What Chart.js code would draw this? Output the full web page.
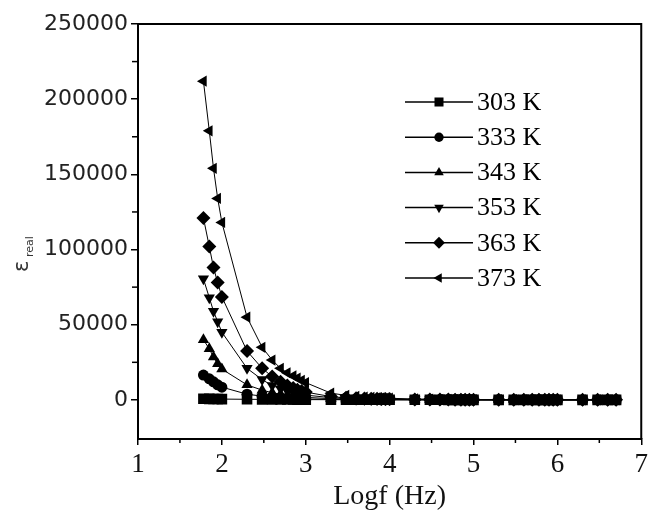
<!DOCTYPE html>
<html>
<head>
<meta charset="utf-8">
<script src="https://cdn.jsdelivr.net/npm/chart.js@4.4.1/dist/chart.umd.min.js"></script>
<style>
  body { margin: 0; background: #fff; }
  canvas { display: block; }
</style>
</head>
<body>
<canvas id="grafico" width="652" height="510"></canvas>
<script>
const logf = [1.78, 1.85, 1.90, 1.95, 2.00, 2.30, 2.48, 2.60, 2.70, 2.78, 2.85, 2.90, 2.95, 3.00,
    3.30, 3.48, 3.60, 3.70, 3.78, 3.85, 3.90, 3.95, 4.00,
    4.30, 4.48, 4.60, 4.70, 4.78, 4.85, 4.90, 4.95, 5.00,
    5.30, 5.48, 5.60, 5.70, 5.78, 5.85, 5.90, 5.95, 6.00,
    6.30, 6.48, 6.60, 6.70];

const temperaturas = ["303 K", "333 K", "343 K", "353 K", "363 K", "373 K"];

// eps real for each temperature (same order as logf)
const eps303 = [800, 700, 650, 600, 550, 400, 350, 300, 280, 260, 240, 220, 200, 190,
    150, 130, 120, 110, 100, 100, 90, 90, 80,
    70, 60, 60, 50, 50, 50, 40, 40, 40,
    30, 30, 30, 30, 20, 20, 20, 20, 20,
    20, 10, 10, 10];
const eps333 = [16500, 14000, 12000, 10000, 8500, 3800, 2500, 1800, 1400, 1100, 900, 800, 700, 600,
    300, 200, 170, 150, 130, 120, 110, 100, 90,
    70, 60, 50, 50, 40, 40, 40, 30, 30,
    30, 20, 20, 20, 20, 20, 20, 10, 10,
    10, 10, 10, 10];
const eps343 = [40000, 34000, 28500, 24000, 20500, 10000, 6500, 4800, 3800, 3100, 2600, 2200, 1900, 1700,
    800, 550, 450, 380, 330, 300, 270, 250, 230,
    150, 120, 100, 90, 80, 70, 70, 60, 60,
    40, 40, 30, 30, 30, 30, 30, 20, 20,
    20, 20, 20, 10];
const eps353 = [80500, 68000, 59000, 52000, 45000, 21000, 13500, 9500, 7500, 6000, 5000, 4300, 3700, 3200,
    1500, 1000, 800, 650, 550, 500, 450, 420, 400,
    250, 200, 170, 150, 130, 120, 110, 100, 100,
    70, 60, 50, 50, 50, 40, 40, 40, 40,
    30, 30, 20, 20];
const eps363 = [121000, 102000, 88000, 78000, 68500, 32500, 21000, 15500, 12000, 9500, 8000, 6800, 6000, 5200,
    2200, 1400, 1100, 900, 800, 700, 650, 600, 550,
    300, 250, 220, 200, 180, 170, 160, 150, 140,
    100, 90, 80, 80, 70, 70, 60, 60, 60,
    50, 40, 40, 40];
const eps373 = [212000, 179000, 154000, 134000, 118000, 55000, 35000, 26500, 21000, 18000, 16000, 14500, 13000, 11500,
    4500, 3000, 2300, 1900, 1600, 1400, 1300, 1200, 1100,
    600, 500, 400, 350, 300, 280, 260, 240, 220,
    150, 130, 120, 110, 100, 100, 90, 90, 80,
    60, 50, 50, 40];

const xTicks = [1, 2, 3, 4, 5, 6, 7];
const xMinor = [1.5, 2.5, 3.5, 4.5, 5.5, 6.5];
const yTicks = [0, 50000, 100000, 150000, 200000, 250000];
const yMinor = [25000, 75000, 125000, 175000, 225000];

const series = [eps303, eps333, eps343, eps353, eps363, eps373];
const marcadores = [
    { style: 'rect', rot: 0, r: 7.5 },
    { style: 'circle', rot: 0, r: 5.5 },
    { style: 'triangle', rot: 0, r: 6.5 },
    { style: 'triangle', rot: 180, r: 6.5 },
    { style: 'rectRot', rot: 0, r: 7 },
    { style: 'triangle', rot: 270, r: 6.5 }
];

const datasets = series.map((valores, i) => ({
    label: temperaturas[i],
    data: valores.map((v, j) => ({ x: logf[j], y: v })),
    borderColor: '#000',
    backgroundColor: '#000',
    borderWidth: 1,
    pointStyle: marcadores[i].style,
    pointRotation: marcadores[i].rot,
    pointRadius: marcadores[i].r,
    pointBorderWidth: 0,
    tension: 0
}));

// caixa, ticks menores, legenda e titulo do eixo y
const extras = {
    id: 'extras',
    afterDraw(chart) {
        const ctx = chart.ctx;
        const a = chart.chartArea;
        const sx = chart.scales.x;
        const sy = chart.scales.y;
        ctx.save();
        ctx.strokeStyle = '#000';
        ctx.fillStyle = '#000';
        ctx.lineWidth = 2;
        ctx.beginPath();
        ctx.moveTo(a.left, a.top);
        ctx.lineTo(a.right, a.top);
        ctx.lineTo(a.right, a.bottom);
        ctx.stroke();

        ctx.lineWidth = 1.5;
        xMinor.forEach(v => {
            const px = sx.getPixelForValue(v);
            ctx.beginPath();
            ctx.moveTo(px, a.bottom);
            ctx.lineTo(px, a.bottom + 4);
            ctx.stroke();
        });
        yMinor.forEach(v => {
            const py = sy.getPixelForValue(v);
            ctx.beginPath();
            ctx.moveTo(a.left, py);
            ctx.lineTo(a.left - 6, py);
            ctx.stroke();
        });

        // legenda
        ctx.font = '26px "Liberation Serif"';
        ctx.textBaseline = 'middle';
        chart.data.datasets.forEach((ds, i) => {
            const ly = 102 + i * 35.2;
            ctx.lineWidth = 1.5;
            ctx.beginPath();
            ctx.moveTo(405, ly);
            ctx.lineTo(473, ly);
            ctx.stroke();
            Chart.helpers.drawPoint(ctx, {
                pointStyle: ds.pointStyle,
                rotation: ds.pointRotation,
                radius: ds.pointRadius * 0.85,
                borderWidth: 0
            }, 439, ly);
            ctx.fillText(ds.label, 477, ly + 1);
        });

        // titulo do eixo y: eps com subscrito "real"
        ctx.translate(28, 272);
        ctx.rotate(-Math.PI / 2);
        ctx.fillStyle = '#333';
        ctx.textBaseline = 'alphabetic';
        ctx.font = '21px "DejaVu Sans"';
        ctx.fillText('ε', 0, 0);
        ctx.font = '11px "DejaVu Sans"';
        ctx.fillText('real', 15, 5);
        ctx.restore();
    }
};

new Chart(document.getElementById('grafico'), {
    type: 'line',
    data: { datasets: datasets },
    options: {
        responsive: false,
        animation: false,
        layout: { padding: { top: 24, right: 8, left: 0, bottom: 0 } },
        plugins: {
            legend: { display: false },
            tooltip: { enabled: false }
        },
        scales: {
            x: {
                type: 'linear',
                min: 1,
                max: 7,
                afterFit: s => { s.height = 71; },
                afterBuildTicks: s => { s.ticks = xTicks.map(v => ({ value: v })); },
                border: { color: '#000', width: 2 },
                grid: { drawOnChartArea: false, color: '#000', tickLength: 6, lineWidth: 1.5 },
                ticks: {
                    color: '#111',
                    font: { family: 'Liberation Serif', size: 27 },
                    padding: 4,
                    maxRotation: 0
                },
                title: {
                    display: true,
                    text: 'Logf (Hz)',
                    color: '#111',
                    font: { family: 'Liberation Serif', size: 28 },
                    padding: { top: 0, bottom: -3 }
                }
            },
            y: {
                type: 'linear',
                min: -26000,
                max: 250000,
                afterFit: s => { s.width = 138; },
                afterBuildTicks: s => { s.ticks = yTicks.map(v => ({ value: v })); },
                border: { color: '#000', width: 2 },
                grid: { drawOnChartArea: false, color: '#000', tickLength: 7, lineWidth: 1.5 },
                ticks: {
                    color: '#222',
                    font: { family: 'DejaVu Sans', size: 22 },
                    padding: 3,
                    callback: v => String(v)
                }
            }
        }
    },
    plugins: [extras]
});
</script>
</body>
</html>
